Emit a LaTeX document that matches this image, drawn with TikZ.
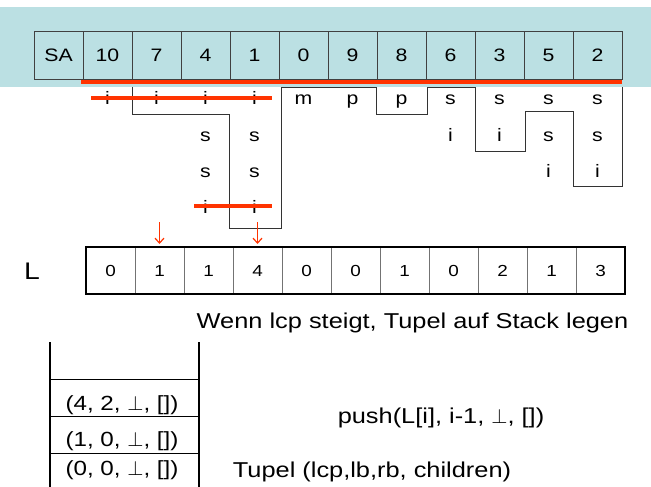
\documentclass[tikz,border=0pt]{standalone}
\usepackage{fontspec}
\setmainfont{Liberation Sans}[FakeStretch=1.18]
\usetikzlibrary{arrows.meta}
\definecolor{band}{RGB}{187,224,227}
\definecolor{hl}{RGB}{255,51,0}
\begin{document}
\begin{tikzpicture}[x=1pt,y=-1pt,
  sacell/.style={draw=black!75, line width=0.8pt, minimum width=49pt, minimum height=48pt, inner sep=0pt, outer sep=0pt, font=\fontsize{18}{21}\selectfont},
  lcell/.style={draw=black!55, line width=0.8pt, minimum width=49pt, minimum height=47pt, inner sep=0pt, outer sep=0pt, font=\fontsize{16}{19}\selectfont},
  letter/.style={inner sep=0pt, font=\fontsize{18}{20}\selectfont},
  strike/.style={hl, line width=4pt},
  lcpline/.style={black!80, line width=0.9pt},
  redarrow/.style={hl, line width=1.2pt, -{Straight Barb[length=5pt,width=9pt]}},
  bigtext/.style={inner sep=0pt, font=\fontsize{21.5}{25}\selectfont},
  stacktext/.style={inner sep=0pt, font=\fontsize{20.5}{24}\selectfont},
]
\useasboundingbox (0,0) rectangle (651,487);
\fill[band] (0,7) rectangle (651,87);
% SA array
\node[sacell] (sa0) at (58.5,55) {SA};
\foreach \v [count=\k] in {10,7,4,1,0,9,8,6,3,5,2}
  \node[sacell] (sa\k) at ({107.5+49*(\k-1)},55) {\v};
\draw[strike] (81,82) -- (622,82);
% suffix letters
\foreach \k/\r/\ch in {1/1/i,2/1/i,3/1/i,4/1/i,5/1/m,6/1/p,7/1/p,8/1/s,9/1/s,10/1/s,11/1/s,
  3/2/s,4/2/s,8/2/i,9/2/i,10/2/s,11/2/s,3/3/s,4/3/s,10/3/i,11/3/i,3/4/i,4/4/i}
  \node[letter, anchor=base] (c\k-\r) at ({107.5+49*(\k-1)},{105+36.3*(\r-1)}) {\ch};
% lcp interval outline
\draw[lcpline] (132,87) -- (132,114) -- (229,114) -- (229,228) -- (281,228) -- (281,87)
  -- (376,87) -- (376,114) -- (427,114) -- (427,87) -- (475,87) -- (475,151)
  -- (525,151) -- (525,111) -- (573,111) -- (573,186) -- (622,186) -- (622,87);
% strike-throughs
\draw[strike] (91,97.7) -- (272,97.7);
\draw[strike] (194,205.7) -- (272,205.7);
% L array
\node[font=\fontsize{24}{28}\selectfont, inner sep=0pt] (Llab) at (32,271) {L};
\foreach \v [count=\k] in {0,1,1,4,0,0,1,0,2,1,3}
  \node[lcell] (l\k) at ({110.5+49*(\k-1)},270.5) {\v};
\draw[line width=2.2pt] (l1.north west) rectangle (l11.south east);
% arrows
\coordinate (a1) at (159.5,222);
\coordinate (a2) at (257.5,222);
\draw[redarrow] (a1) -- ([yshift=3pt]l2.north);
\draw[redarrow] (a2) -- ([yshift=3pt]l4.north);
% texts
\node[bigtext] (t1) at (412.5,323) {Wenn lcp steigt, Tupel auf Stack legen};
\node[bigtext] (t2) at (441,418) {push(L[i], i-1, $\perp$, [])};
\node[bigtext] (t3) at (372,472) {Tupel (lcp,lb,rb, children)};
% stack
\draw[line width=1.6pt] (50,342) -- (50,487);
\draw[line width=1.6pt] (199,342) -- (199,487);
\draw[line width=0.9pt] (50,379) -- (199,379);
\draw[line width=0.9pt] (50,416) -- (199,416);
\draw[line width=0.9pt] (50,453) -- (199,453);
\node[stacktext] (st1) at (122,405) {(4, 2, $\perp$, [])};
\node[stacktext] (st2) at (122,441) {(1, 0, $\perp$, [])};
\node[stacktext] (st3) at (122,470) {(0, 0, $\perp$, [])};
\end{tikzpicture}
\end{document}
